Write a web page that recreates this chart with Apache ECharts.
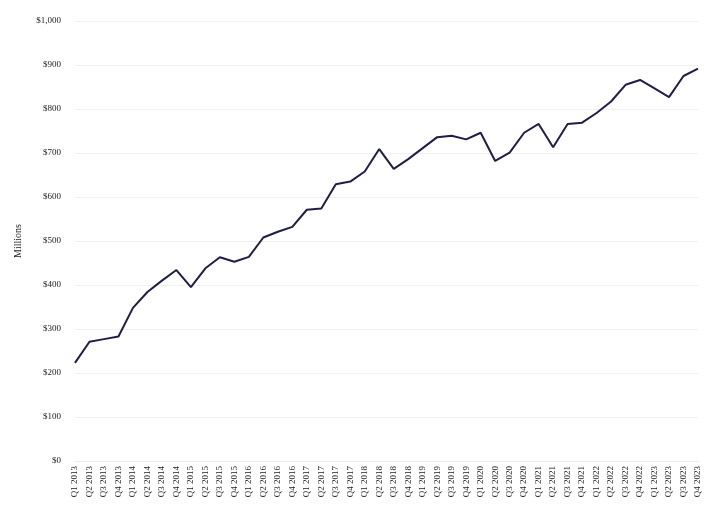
<!DOCTYPE html>
<html>
<head>
<meta charset="utf-8">
<script src="https://cdn.jsdelivr.net/npm/echarts@6/dist/echarts.min.js"></script>
<style>html,body{margin:0;padding:0;background:#fff;}#c{width:707px;height:512px;}</style>
</head>
<body>
<div id="c"></div>
<script>
const years = [2013,2014,2015,2016,2017,2018,2019,2020,2021,2022,2023];
const quarters = ['Q1','Q2','Q3','Q4'];
const categories = [];
years.forEach(y => quarters.forEach(q => categories.push(q + ' ' + y)));
const values = [
  223, 271, 277, 283, 348, 384, 410, 434, 395, 438, 463, 453,
  464, 508, 521, 532, 571, 574, 629, 635, 658, 709, 664, 686,
  711, 736, 739, 731, 746, 682, 701, 746, 766, 713, 766, 769,
  791, 817, 855, 866, 847, 827, 875, 892
];
const yTicks = [0,100,200,300,400,500,600,700,800,900,1000];
const font = 'Liberation Serif, DejaVu Serif, serif';
const chart = echarts.init(document.getElementById('c'));
chart.setOption({
  animation: false,
  backgroundColor: '#fff',
  grid: { left: 75, right: 9, top: 21, bottom: 51, containLabel: false },
  xAxis: {
    type: 'category',
    data: categories,
    boundaryGap: false,
    axisLine: { show: true, lineStyle: { color: '#ececec' } },
    axisTick: { show: false },
    axisLabel: { rotate: 90, interval: 0, fontFamily: font, fontSize: 9, color: '#222', margin: 5 }
  },
  yAxis: {
    type: 'value',
    min: 0, max: 1000, interval: 100,
    name: 'Millions',
    nameLocation: 'middle',
    nameGap: 52,
    nameTextStyle: { fontFamily: font, fontSize: 10, color: '#222' },
    axisLine: { show: false },
    axisTick: { show: false },
    splitLine: { lineStyle: { color: '#f0f0f0', width: 1 } },
    axisLabel: {
      fontFamily: font, fontSize: 9, color: '#222', margin: 14,
      formatter: v => '$' + v.toLocaleString('en-US')
    }
  },
  series: [{
    type: 'line',
    data: values,
    symbol: 'none',
    lineStyle: { color: '#1e1e48', width: 2 }
  }]
});
</script>
</body>
</html>
